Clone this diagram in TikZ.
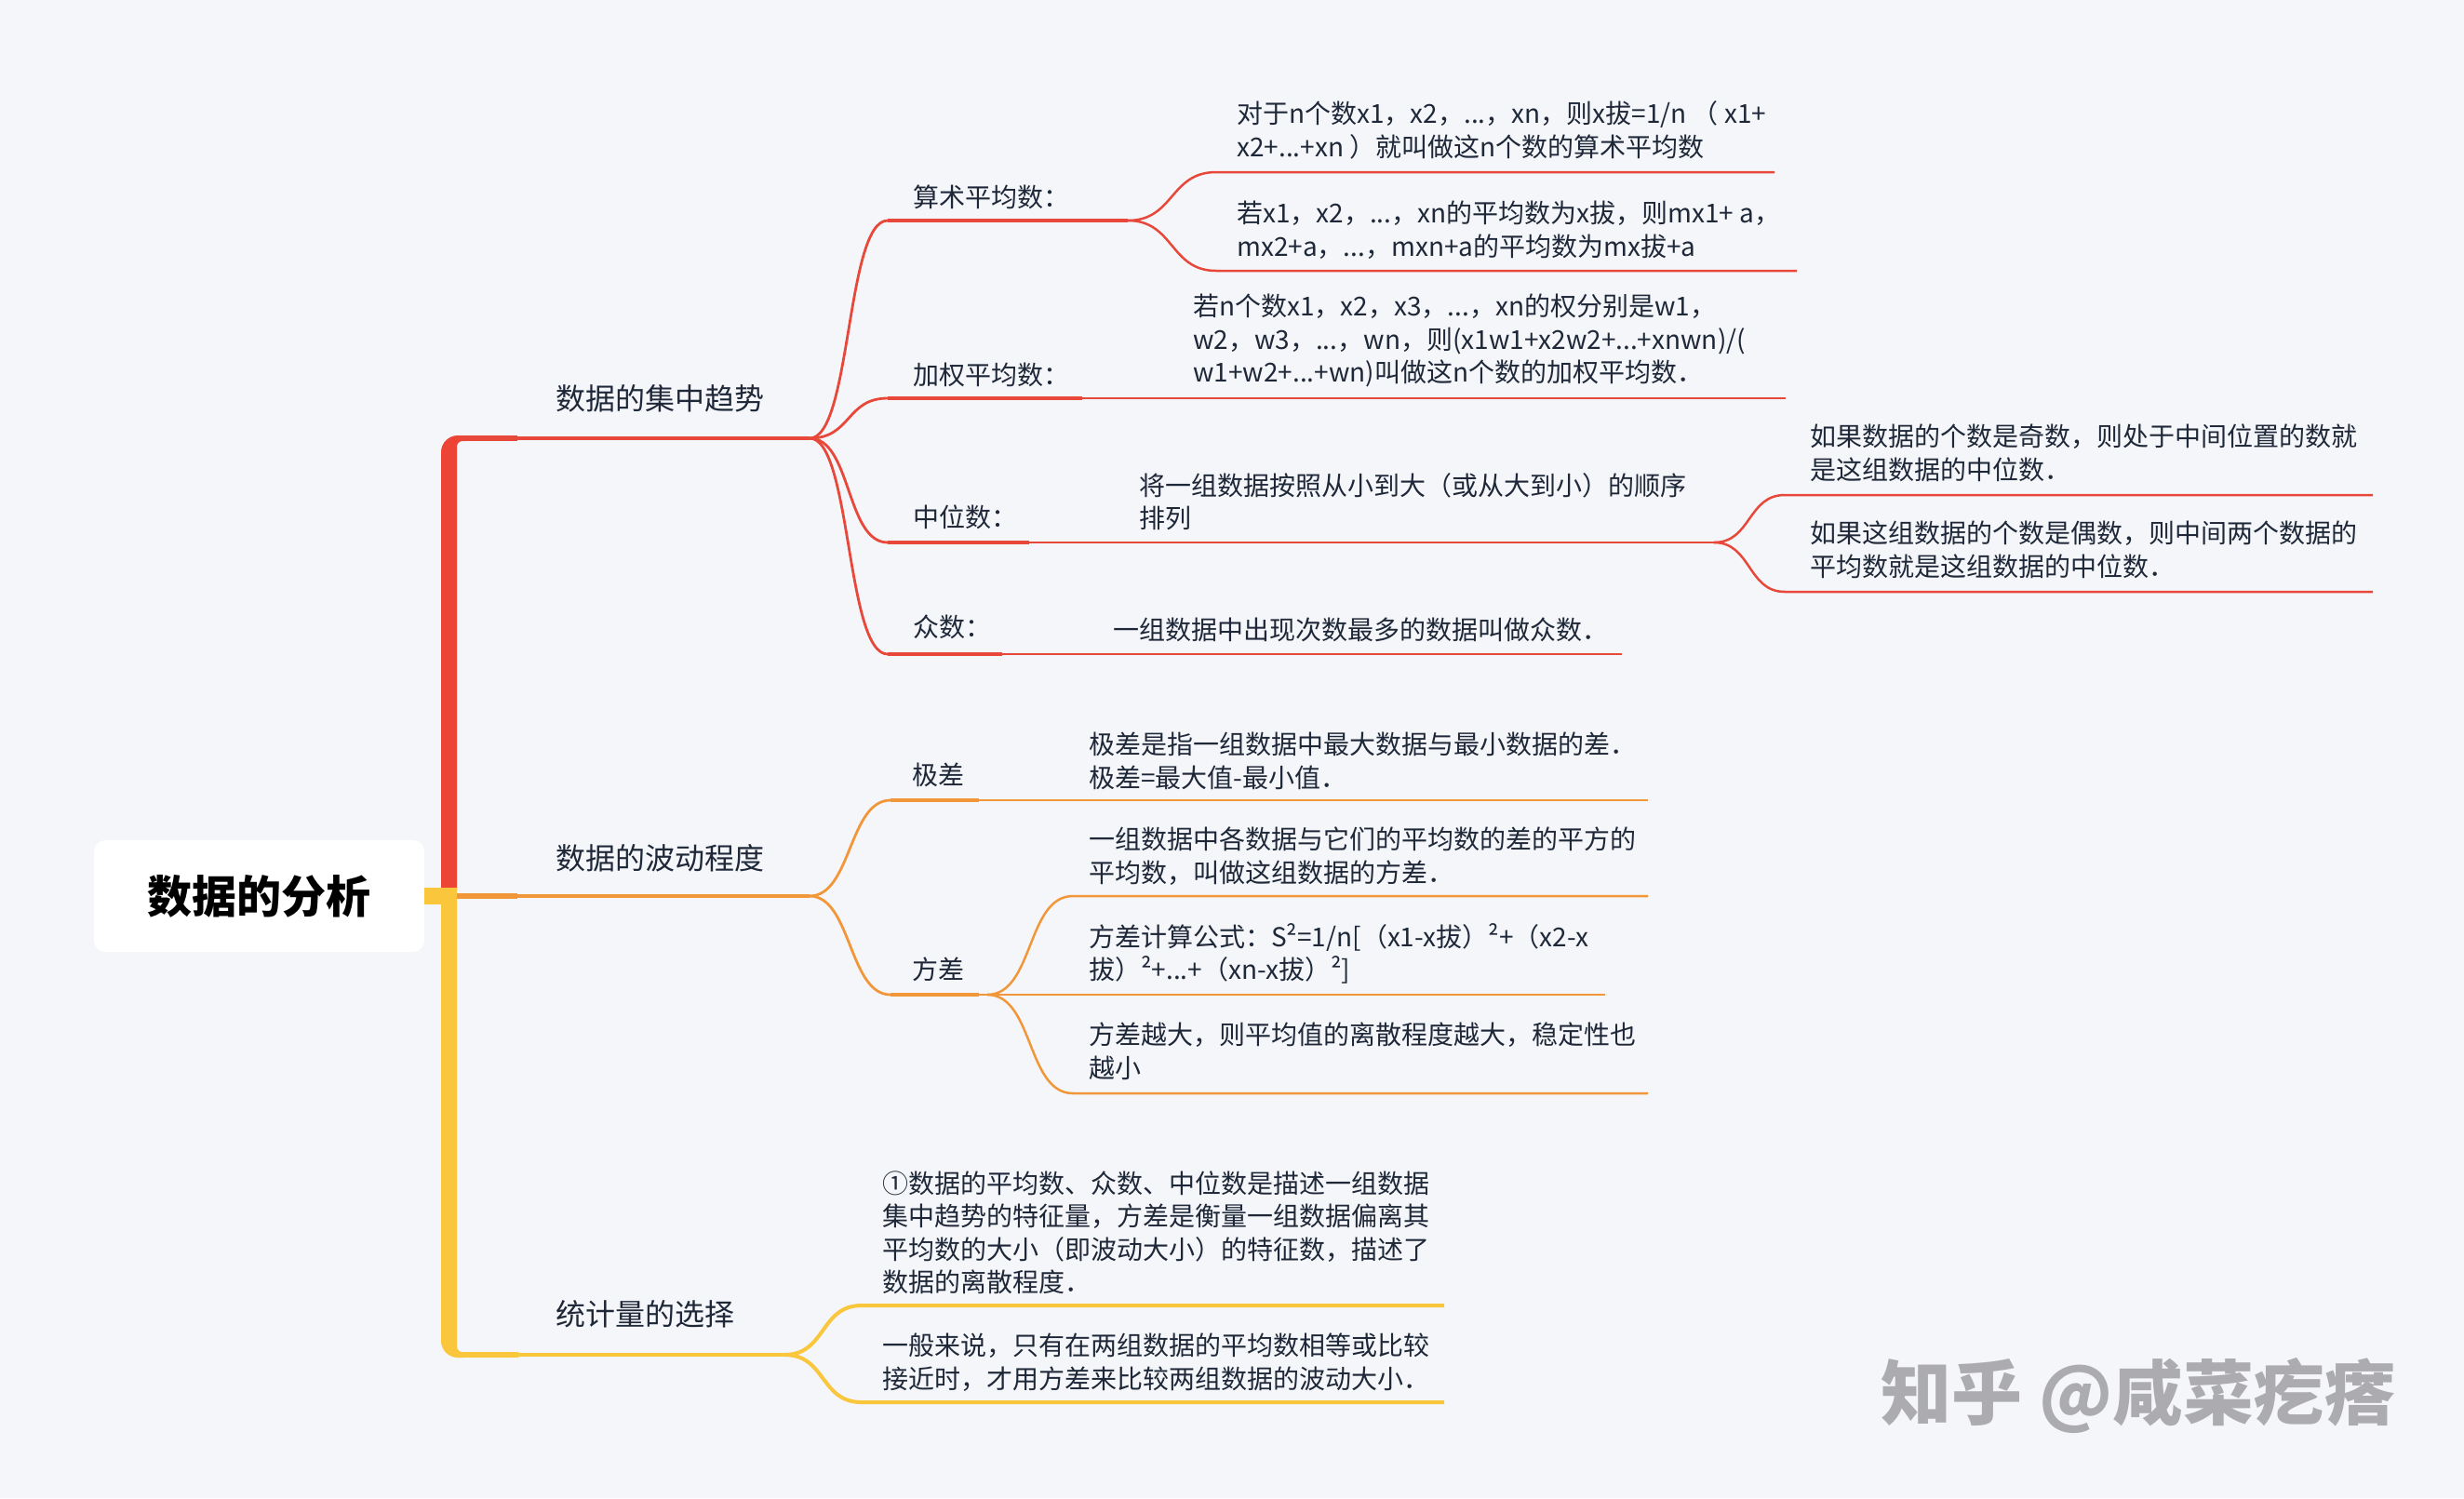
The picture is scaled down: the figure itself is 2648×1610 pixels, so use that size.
\documentclass[tikz,border=0pt]{standalone}
\usepackage{fontspec}
\setmainfont{Noto Sans CJK SC}
\definecolor{cbg}{HTML}{F5F6FA}
\definecolor{cred}{HTML}{E8483A}
\definecolor{ctrunkred}{HTML}{EE4435}
\definecolor{corg}{HTML}{F2963A}
\definecolor{cyel}{HTML}{F9C63C}
\definecolor{ctext}{HTML}{1E2838}
\definecolor{wmgray}{HTML}{ABABB0}
\begin{document}
\begin{tikzpicture}[x=1pt,y=-1pt,
  rootbox/.style={fill=white,rounded corners=12pt,minimum width=355pt,minimum height=120pt,inner sep=0pt,text=black,font=\fontsize{48}{56}\selectfont\bfseries},
  mainlbl/.style={inner sep=0pt,anchor=west,text=ctext,font=\fontsize{32}{38}\selectfont},
  sublbl/.style={inner sep=0pt,anchor=west,text=ctext,font=\fontsize{28}{32}\selectfont},
  leaf/.style={inner sep=0pt,anchor=west,align=left,text=ctext,font=\fontsize{28}{35.5}\selectfont},
  mainln/.style={line width=4.5pt},
  mainthick/.style={line width=6pt},
  subthick/.style={line width=4pt},
  curve/.style={line width=2.8pt},
  leafln/.style={line width=2.5pt},
]
\useasboundingbox (0,0) rectangle (2648,1610);
\fill[cbg] (0,0) rectangle (2648,1610);

% ---------- coordinates ----------
\coordinate (junc) at (491,963);

\coordinate (b1s) at (491,471);  \coordinate (b1k) at (556,471); \coordinate (F1) at (870,471);
\coordinate (b2s) at (491,963);  \coordinate (b2k) at (556,963); \coordinate (F2) at (870,963);
\coordinate (b3s) at (491,1456); \coordinate (b3k) at (557,1456); \coordinate (F3) at (843,1456);

% branch 1 subs
\coordinate (s11) at (954,237);  \coordinate (F11) at (1212,237);
\coordinate (l111s) at (1307,185); \coordinate (l111e) at (1907,185);
\coordinate (l112s) at (1307,291); \coordinate (l112e) at (1931,291);
\coordinate (s12) at (954,428);  \coordinate (s12k) at (1163,428); \coordinate (s12e) at (1919,428);
\coordinate (s13) at (954,583);  \coordinate (s13k) at (1106,583); \coordinate (F13) at (1842,583);
\coordinate (l131s) at (1918,532); \coordinate (l131e) at (2550,532);
\coordinate (l132s) at (1918,636); \coordinate (l132e) at (2550,636);
\coordinate (s14) at (954,703);  \coordinate (s14k) at (1077,703); \coordinate (s14e) at (1743,703);

% branch 2 subs
\coordinate (s21) at (957,860);  \coordinate (s21k) at (1052,860); \coordinate (s21e) at (1771,860);
\coordinate (s22) at (957,1069); \coordinate (s22k) at (1052,1069); \coordinate (F22) at (1061,1069);
\coordinate (l221s) at (1153,963);  \coordinate (l221e) at (1771,963);
\coordinate (l222e) at (1725,1069);
\coordinate (l223s) at (1153,1175); \coordinate (l223e) at (1771,1175);

% branch 3 leaves
\coordinate (l31s) at (926,1403); \coordinate (l31e) at (1552,1403);
\coordinate (l32s) at (926,1507); \coordinate (l32e) at (1552,1507);

% ---------- root ----------
\node[rootbox] (root) at (278.5,963) {数据的分析};

% ---------- trunk ----------
\fill[ctrunkred] (474,956) -- (474,486) arc[start angle=180,end angle=270,radius=18]
  -- (500,468) -- (500,474) -- (497,474) arc[start angle=270,end angle=180,radius=6]
  -- (491,956) -- cycle;
\fill[cyel] (474,955) -- (474,1441) arc[start angle=180,end angle=90,radius=18]
  -- (500,1459) -- (500,1453) -- (497,1453) arc[start angle=90,end angle=180,radius=6]
  -- (491,955) -- cycle;
\draw[cyel,line width=18pt] (root.east) -- (junc);

% ---------- branch 1 (red) ----------
\draw[cred,mainthick] (b1s) -- (b1k);
\draw[cred,mainln] (b1k) -- (F1);
\draw[cred,curve] (F1) .. controls +(45,0) and +(-45,0) .. (s11);
\draw[cred,curve] (F1) .. controls +(45,0) and +(-45,0) .. (s12);
\draw[cred,curve] (F1) .. controls +(45,0) and +(-45,0) .. (s13);
\draw[cred,curve] (F1) .. controls +(45,0) and +(-45,0) .. (s14);
\draw[cred,subthick] (s11) -- (F11);
\draw[cred,leafln] (F11) .. controls +(50,0) and +(-50,0) .. (l111s) -- (l111e);
\draw[cred,leafln] (F11) .. controls +(50,0) and +(-50,0) .. (l112s) -- (l112e);
\draw[cred,subthick] (s12) -- (s12k);
\draw[cred,leafln] (s12k) -- (s12e);
\draw[cred,subthick] (s13) -- (s13k);
\draw[cred,leafln] (s13k) -- (F13);
\draw[cred,leafln] (F13) .. controls +(40,0) and +(-40,0) .. (l131s) -- (l131e);
\draw[cred,leafln] (F13) .. controls +(40,0) and +(-40,0) .. (l132s) -- (l132e);
\draw[cred,subthick] (s14) -- (s14k);
\draw[cred,leafln] (s14k) -- (s14e);

% ---------- branch 2 (orange) ----------
\draw[corg,mainthick] (b2s) -- (b2k);
\draw[corg,mainln] (b2k) -- (F2);
\draw[corg,curve] (F2) .. controls +(45,0) and +(-45,0) .. (s21);
\draw[corg,curve] (F2) .. controls +(45,0) and +(-45,0) .. (s22);
\draw[corg,subthick] (s21) -- (s21k);
\draw[corg,leafln] (s21k) -- (s21e);
\draw[corg,subthick] (s22) -- (s22k);
\draw[corg,leafln] (s22k) -- (l222e);
\draw[corg,leafln] (F22) .. controls +(50,0) and +(-50,0) .. (l221s) -- (l221e);
\draw[corg,leafln] (F22) .. controls +(50,0) and +(-50,0) .. (l223s) -- (l223e);

% ---------- branch 3 (yellow) ----------
\draw[cyel,mainthick] (b3s) -- (b3k);
\draw[cyel,mainln] (b3k) -- (F3);
\draw[cyel,line width=4pt] (F3) .. controls +(45,0) and +(-45,0) .. (l31s) -- (l31e);
\draw[cyel,line width=4pt] (F3) .. controls +(45,0) and +(-45,0) .. (l32s) -- (l32e);

% ---------- labels ----------
\node[mainlbl] (m1) at (597,428) {数据的集中趋势};
\node[mainlbl] (m2) at (597,922) {数据的波动程度};
\node[mainlbl] (m3) at (597,1412) {统计量的选择};

\node[sublbl] (t11) at (981,212) {算术平均数：};
\node[sublbl] (t12) at (981,403) {加权平均数：};
\node[sublbl] (t13) at (981,556) {中位数：};
\node[sublbl] (t14) at (981,674) {众数：};
\node[sublbl] (t21) at (980,833) {极差};
\node[sublbl] (t22) at (980,1042) {方差};

\node[leaf] (x111) at (1329,140) {对于n个数x1，x2，...，xn，则x拔=1/n （ x1+\\x2+...+xn ）就叫做这n个数的算术平均数};
\node[leaf] (x112) at (1329,247) {若x1，x2，...，xn的平均数为x拔，则mx1+ a，\\mx2+a，...，mxn+a的平均数为mx拔+a};
\node[leaf] (x12) at (1282,366) {若n个数x1，x2，x3，...，xn的权分别是w1，\\w2，w3，...，wn，则(x1w1+x2w2+...+xnwn)/(\\w1+w2+...+wn)叫做这n个数的加权平均数．};
\node[leaf] (x13) at (1224,539) {将一组数据按照从小到大（或从大到小）的顺序\\排列};
\node[leaf] (x131) at (1945,487) {如果数据的个数是奇数，则处于中间位置的数就\\是这组数据的中位数．};
\node[leaf] (x132) at (1945,591) {如果这组数据的个数是偶数，则中间两个数据的\\平均数就是这组数据的中位数．};
\node[leaf] (x14) at (1196,677) {一组数据中出现次数最多的数据叫做众数．};

\node[leaf] (x21) at (1170,818) {极差是指一组数据中最大数据与最小数据的差．\\极差=最大值-最小值．};
\node[leaf] (x221) at (1170,920) {一组数据中各数据与它们的平均数的差的平方的\\平均数，叫做这组数据的方差．};
\node[leaf] (x222) at (1170,1025) {方差计算公式：S²=1/n[（x1-x拔）²+（x2-x\\拔）²+...+（xn-x拔）²]};
\node[leaf] (x223) at (1170,1130) {方差越大，则平均值的离散程度越大，稳定性也\\越小};

\node[leaf] (x31) at (948,1325) {①数据的平均数、众数、中位数是描述一组数据\\集中趋势的特征量，方差是衡量一组数据偏离其\\平均数的大小（即波动大小）的特征数，描述了\\数据的离散程度．};
\node[leaf] (x32) at (948,1464) {一般来说，只有在两组数据的平均数相等或比较\\接近时，才用方差来比较两组数据的波动大小．};

% ---------- watermark ----------
\node[inner sep=0pt,text=wmgray,font=\fontsize{76}{80}\selectfont\bfseries] (wm) at (2298,1500) {知乎 @咸菜疙瘩};
\end{tikzpicture}
\end{document}
